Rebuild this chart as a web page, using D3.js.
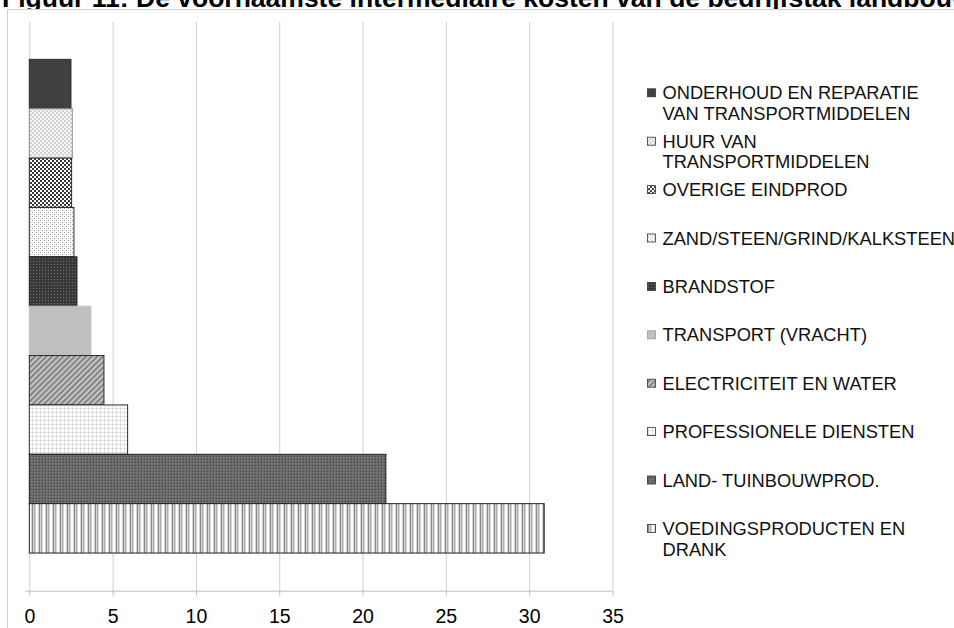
<!DOCTYPE html>
<html>
<head>
<meta charset="utf-8">
<script src="https://cdn.jsdelivr.net/npm/d3@7"></script>
<style>
  html, body { margin: 0; padding: 0; background: #fff; overflow: hidden; }
  svg { display: block; font-family: "Liberation Sans", Arial, sans-serif; }
</style>
</head>
<body>
<svg id="chart" width="954" height="628"></svg>
<script>
// data, top bar first (same order as the legend)
const categories = [
  'ONDERHOUD EN REPARATIE\nVAN TRANSPORTMIDDELEN',
  'HUUR VAN\nTRANSPORTMIDDELEN',
  'OVERIGE EINDPROD',
  'ZAND/STEEN/GRIND/KALKSTEEN',
  'BRANDSTOF',
  'TRANSPORT (VRACHT)',
  'ELECTRICITEIT EN WATER',
  'PROFESSIONELE DIENSTEN',
  'LAND- TUINBOUWPROD.',
  'VOEDINGSPRODUCTEN EN\nDRANK'
]
const values = [2.5, 2.58, 2.54, 2.68, 2.86, 3.7, 4.48, 5.9, 21.4, 30.9]
const xTicks = [0, 5, 10, 15, 20, 25, 30, 35]
const title = 'Figuur 11: De voornaamste intermediaire kosten van de bedrijfstak landbouw'

const svg = d3.select('#chart')
const width = +svg.attr('width')

// plot area
const plotLeft = 29.3, plotRight = 612.5
const plotTop = 21.7, plotBottom = 590.7

const x = d3.scaleLinear().domain([0, 35]).range([plotLeft, plotRight])
const y = d3.scaleBand().domain(categories).range([plotTop, plotBottom])
  .paddingInner(0).paddingOuter(0.763)

// ---- fill patterns (greyscale, Excel style) ----
const defs = svg.append('defs')

function pattern(id, w, h, bg, cells, transform) {
  const p = defs.append('pattern')
    .attr('id', id)
    .attr('patternUnits', 'userSpaceOnUse')
    .attr('width', w).attr('height', h)
  if (transform) p.attr('patternTransform', transform)
  p.append('rect').attr('width', w).attr('height', h).attr('fill', bg)
  cells.forEach(c => {
    p.append('rect').attr('x', c[0]).attr('y', c[1])
      .attr('width', c[2]).attr('height', c[3]).attr('fill', c[4])
  })
  return `url(#${id})`
}

const fills = [
  '#404040',
  pattern('huur', 4, 4, '#f5f5f5', [[0, 0, 2, 2, '#d2d2d2'], [2, 2, 2, 2, '#d2d2d2']]),
  pattern('overig', 4, 4, '#ffffff', [[0, 0, 2, 2, '#3a3a3a'], [2, 2, 2, 2, '#3a3a3a']]),
  pattern('zand', 4, 4, '#ffffff', [[0, 0, 1, 1, '#9a9a9a'], [2, 2, 1, 1, '#9a9a9a'], [2, 0, 1, 1, '#dedede'], [0, 2, 1, 1, '#dedede']]),
  pattern('brand', 3, 3, '#383838', [[0, 0, 1, 1, '#707070']]),
  '#bfbfbf',
  pattern('elec', 4, 4, '#c4c4c4', [[0, 0, 1.6, 4, '#767676']], 'rotate(45)'),
  pattern('prof', 4, 4, '#fcfcfc', [[0, 0, 1, 4, '#e8e8e8'], [0, 0, 4, 1, '#e8e8e8'], [0, 0, 1, 1, '#c4c4c4']]),
  pattern('land', 3, 3, '#6a6a6a', [[0, 0, 1, 1, '#454545'], [1, 1, 1, 1, '#808080']]),
  pattern('voed', 7, 7, '#d2d2d2', [[1, 0, 2, 7, '#ffffff'], [4, 0, 1, 7, '#8a8a8a'], [6, 0, 1, 7, '#b0b0b0']])
]
const strokes = ['#2a2a2a', '#8a8a8a', '#2a2a2a', '#2a2a2a', '#1e1e1e',
  '#c4c4c4', '#2a2a2a', '#2a2a2a', '#1e1e1e', '#1e1e1e']

// ---- title (cut off at the top, as in the source) ----
svg.append('text')
  .attr('x', 2).attr('y', 7)
  .attr('font-weight', 'bold')
  .attr('font-size', 26.5)
  .attr('fill', '#000')
  .text(title)

// chart frame
svg.append('rect')
  .attr('x', 7.5).attr('y', 9.5)
  .attr('width', width + 20).attr('height', 700)
  .attr('fill', '#fff')
  .attr('stroke', '#d0d0d0')

// gridlines
svg.append('g')
  .attr('transform', `translate(0, ${plotBottom})`)
  .call(d3.axisBottom(x).tickValues(xTicks).tickSize(-(plotBottom - plotTop)).tickFormat(''))
  .call(g => g.select('.domain').remove())
  .selectAll('.tick line')
  .attr('stroke', '#cfcfcf')

// bars
svg.append('g')
  .selectAll('rect')
  .data(values)
  .join('rect')
  .attr('x', x(0))
  .attr('y', (d, i) => y(categories[i]))
  .attr('width', d => x(d) - x(0))
  .attr('height', y.bandwidth())
  .attr('fill', (d, i) => fills[i])
  .attr('stroke', (d, i) => strokes[i])
  .attr('stroke-width', 1)

// x axis
const xAxis = svg.append('g')
  .attr('transform', `translate(0, ${plotBottom})`)
  .call(d3.axisBottom(x).tickValues(xTicks).tickSize(5).tickPadding(13))
xAxis.select('.domain').remove()
xAxis.selectAll('.tick line').attr('stroke', '#bdbdbd')
xAxis.selectAll('.tick text')
  .attr('font-size', 19.5)
  .attr('font-family', '"Liberation Sans", Arial, sans-serif')
  .attr('fill', '#000')
xAxis.append('line')
  .attr('x1', x(0) - 4).attr('x2', x(35))
  .attr('y1', 0.5).attr('y2', 0.5)
  .attr('stroke', '#bdbdbd')

// legend
const legendX = 647.5
const textX = 662.5
const firstBaseline = 99.3
const legendStep = 48.4
const lineHeight = 20.7

const legend = svg.append('g')
  .selectAll('g')
  .data(categories)
  .join('g')
  .attr('transform', (d, i) => `translate(0, ${firstBaseline + i * legendStep})`)

legend.append('rect')
  .attr('x', legendX).attr('y', -10.5)
  .attr('width', 8).attr('height', 8)
  .attr('fill', (d, i) => fills[i])
  .attr('stroke', (d, i) => i === 5 ? '#9a9a9a' : '#333')
  .attr('stroke-width', 0.8)

legend.append('text')
  .attr('x', textX)
  .attr('font-size', 18.3)
  .attr('fill', '#111')
  .selectAll('tspan')
  .data(d => d.split('\n'))
  .join('tspan')
  .attr('x', textX)
  .attr('dy', (d, i) => i === 0 ? 0 : lineHeight)
  .text(d => d)
</script>
</body>
</html>
